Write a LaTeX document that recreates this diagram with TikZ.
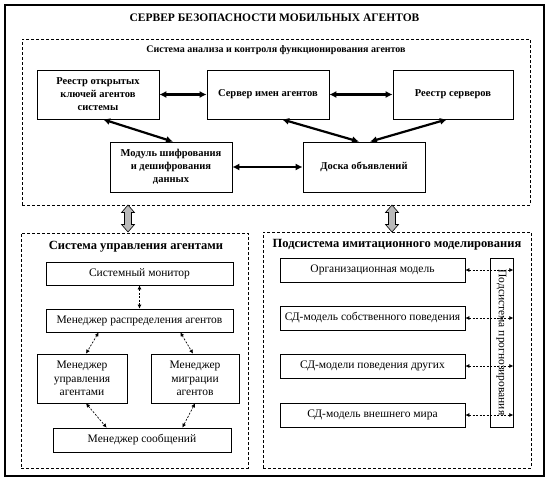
\documentclass[tikz,border=0pt]{standalone}
\usepackage{fontspec}
\setmainfont{Liberation Serif}
\usetikzlibrary{arrows.meta}

\begin{document}
\begin{tikzpicture}[x=1pt,y=-1pt]
    \tikzstyle{frame}=[draw, line width=0.8pt, dash pattern=on 3pt off 2pt, inner sep=0pt]
    \tikzstyle{block}=[draw, line width=0.7pt, inner sep=1pt, align=center, font=\fontsize{10.5}{13}\selectfont\bfseries]
    \tikzstyle{unit}=[draw, line width=0.7pt, inner sep=1pt, align=center, font=\fontsize{11.5}{13.5}\selectfont]
    \tikzstyle{link}=[line width=2.2pt, {Latex[length=7pt,width=7pt]}-{Latex[length=7pt,width=7pt]}]
    \tikzstyle{dlink}=[line width=0.7pt, dash pattern=on 2pt off 1.5pt, {Latex[length=4pt,width=4pt]}-{Latex[length=4pt,width=4pt]}]
    \tikzstyle{greyarrow}=[fill=gray!55, draw, line width=0.6pt]

    \useasboundingbox (0,0) rectangle (549,482);

    % outer frame and frames
    \node[draw, line width=1.6pt, minimum width=539pt, minimum height=471pt] (server) at (274.5,240.5) {};
    \node[frame, minimum width=508pt, minimum height=166pt] (analysis) at (276,122) {};
    \node[frame, minimum width=227pt, minimum height=235pt] (agents) at (134.5,350.5) {};
    \node[frame, minimum width=268pt, minimum height=236pt] (simul) at (397,350) {};

    % titles
    \node[font=\fontsize{11.5}{14}\selectfont\bfseries] (t0) at (274.5,18) {СЕРВЕР БЕЗОПАСНОСТИ МОБИЛЬНЫХ АГЕНТОВ};
    \node[font=\fontsize{10}{12}\selectfont\bfseries] (t1) at (276,50) {Система анализа и контроля функционирования агентов};
    \node[font=\fontsize{12.5}{14}\selectfont\bfseries] (t2) at (136,247) {Система управления агентами};
    \node[font=\fontsize{12.5}{14}\selectfont\bfseries] (t3) at (397,245) {Подсистема имитационного моделирования};

    % analysis blocks
    \node[block, minimum width=122pt, minimum height=49pt] (keys)    at (98,94.5)  {Реестр открытых\\ключей агентов\\системы};
    \node[block, minimum width=122pt, minimum height=49pt] (names)   at (268,94.5) {Сервер имен агентов};
    \node[block, minimum width=120pt, minimum height=49pt] (servers) at (453,94.5) {Реестр серверов};
    \node[block, minimum width=122pt, minimum height=50pt] (crypt)   at (171,167)  {Модуль шифрования\\и дешифрования\\данных};
    \node[block, minimum width=122pt, minimum height=50pt] (board)   at (364,167)  {Доска объявлений};

    \draw[link] (keys) -- (names);
    \draw[link] (names) -- (servers);
    \draw[link] (crypt) -- (board);
    \draw[link] ([xshift=5pt]keys.south) -- ([xshift=2pt]crypt.north);
    \draw[link] ([xshift=14pt]names.south) -- ([xshift=-5pt]board.north);
    \draw[link] ([xshift=-6pt]servers.south) -- ([xshift=6pt]board.north);

    % grey arrows between the frames
    \foreach \x in {128,392}
        \filldraw[greyarrow] (\x,205) -- (\x+6.5,212.5) -- (\x+3.5,212.5) -- (\x+3.5,224.5)
                             -- (\x+6.5,224.5) -- (\x,232) -- (\x-6.5,224.5) -- (\x-3.5,224.5)
                             -- (\x-3.5,212.5) -- (\x-6.5,212.5) -- cycle;

    % agent management
    \node[unit, minimum width=187pt, minimum height=23pt] (monitor) at (139.5,273.5) {Системный монитор};
    \node[unit, minimum width=187pt, minimum height=23pt] (distrib) at (139.5,320.5) {Менеджер распределения агентов};
    \node[unit, minimum width=90pt, minimum height=49pt]  (control) at (82,378.5)    {Менеджер\\управления\\агентами};
    \node[unit, minimum width=88pt, minimum height=49pt]  (migr)    at (195,378.5)   {Менеджер\\миграции\\агентов};
    \node[unit, minimum width=178pt, minimum height=24pt] (msgs)    at (142,440)     {Менеджер сообщений};

    \draw[dlink] (monitor) -- (distrib);
    \draw[dlink] ([xshift=53pt]distrib.south west) -- ([xshift=4pt]control.north);
    \draw[dlink] ([xshift=-53pt]distrib.south east) -- ([xshift=-2pt]migr.north);
    \draw[dlink] ([xshift=4pt]control.south) -- ([xshift=54pt]msgs.north west);
    \draw[dlink] (migr.south) -- ([xshift=-49pt]msgs.north east);

    % simulation
    \node[unit, minimum width=185pt, minimum height=24pt] (org)    at (372.5,270) {Организационная модель};
    \node[unit, minimum width=185pt, minimum height=24pt] (own)    at (372.5,318) {СД-модель собственного поведения};
    \node[unit, minimum width=185pt, minimum height=24pt] (others) at (372.5,366) {СД-модели поведения других};
    \node[unit, minimum width=185pt, minimum height=24pt] (world)  at (372.5,415) {СД-модель внешнего мира};
    \node[unit, rotate=-90, minimum width=169pt, minimum height=23pt] (prog) at (501.5,342.5) {Подсистема прогнозирования};

    \foreach \m in {org,own,others,world}
        \draw[dlink] (\m.east) -- (\m.east -| prog.north);
\end{tikzpicture}
\end{document}
